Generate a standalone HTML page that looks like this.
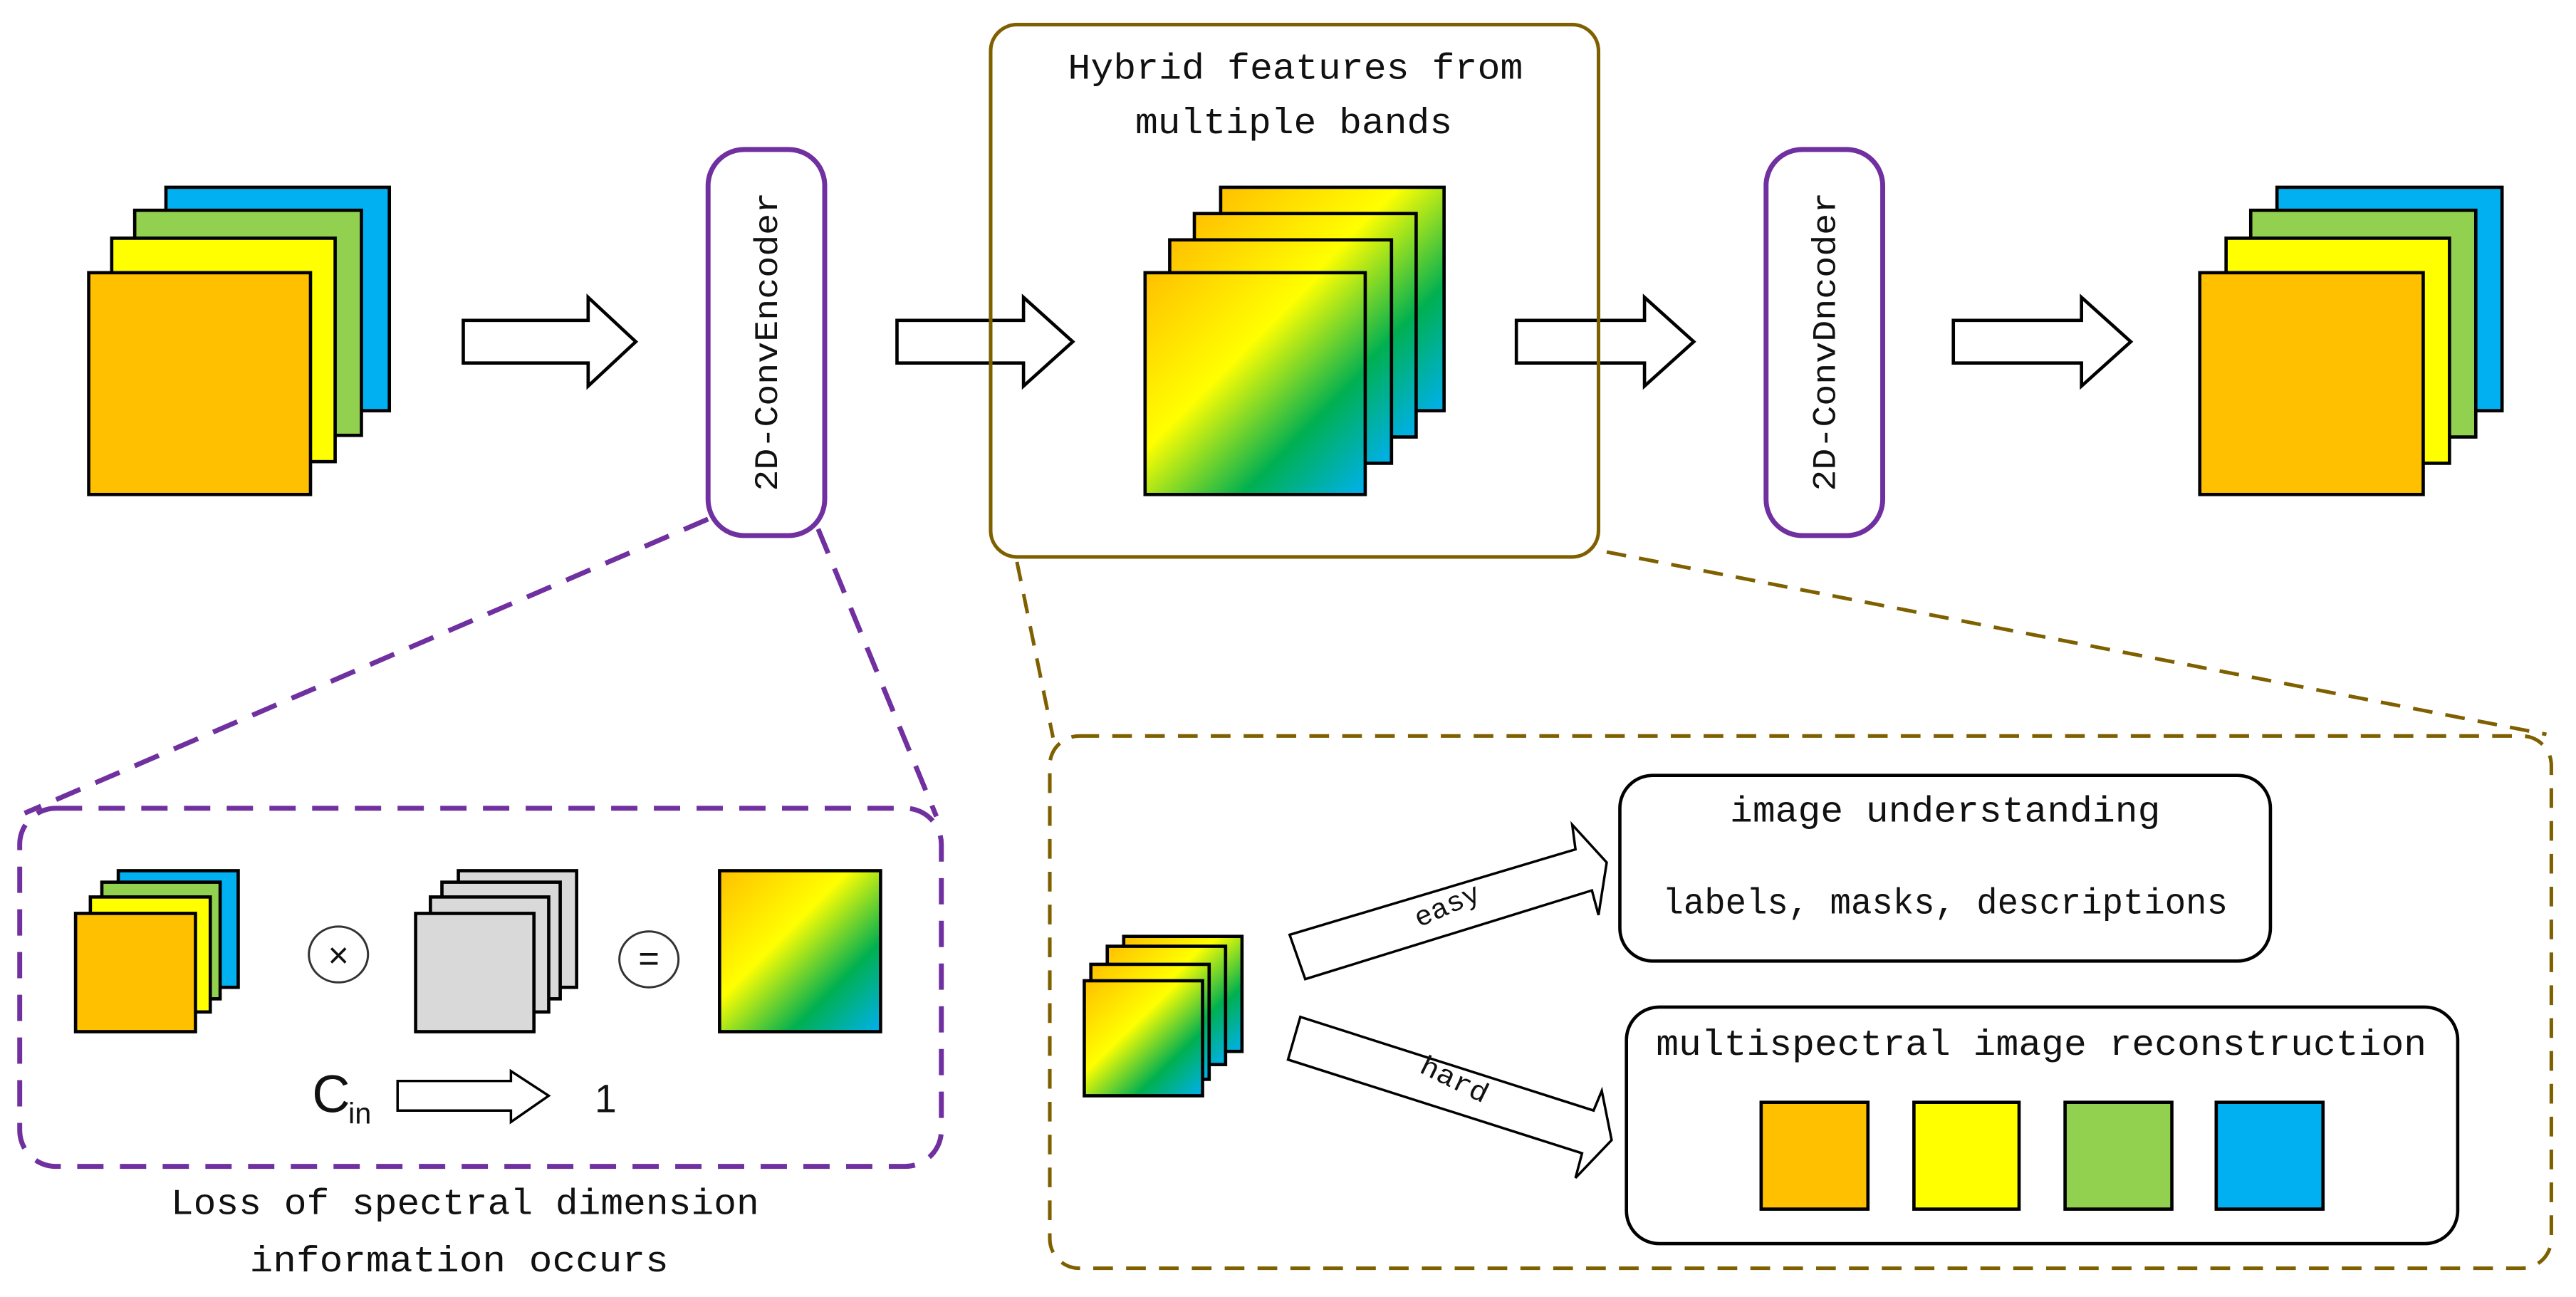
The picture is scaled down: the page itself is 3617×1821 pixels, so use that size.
<!DOCTYPE html>
<html><head><meta charset="utf-8"><style>
html,body{margin:0;padding:0;background:#fff;}
svg{display:block;}
text{font-family:"Liberation Mono","DejaVu Sans Mono",monospace;fill:#111;}
</style></head><body>
<svg width="3617" height="1821" viewBox="0 0 1568 789.5" preserveAspectRatio="none" xmlns="http://www.w3.org/2000/svg">
<defs>
<linearGradient id="g" x1="0" y1="0" x2="1" y2="1">
<stop offset="0" stop-color="#ffc000"/>
<stop offset="0.4" stop-color="#ffff00"/>
<stop offset="0.72" stop-color="#00b050"/>
<stop offset="1" stop-color="#00b0f0"/>
</linearGradient>
</defs>
<g stroke="#000" stroke-width="2">
<rect x="101" y="114" width="136" height="136" fill="#00b0f0"/>
<rect x="82" y="128" width="138" height="137" fill="#92d050"/>
<rect x="68" y="145" width="136" height="136" fill="#ffff00"/>
<rect x="54" y="166" width="135" height="135" fill="#ffc000"/>
<rect x="1386" y="114" width="137" height="136" fill="#00b0f0"/>
<rect x="1370" y="128" width="137" height="138" fill="#92d050"/>
<rect x="1355" y="145" width="136" height="137" fill="#ffff00"/>
<rect x="1339" y="166" width="136" height="135" fill="#ffc000"/>
<rect x="743" y="114" width="136" height="136" fill="url(#g)"/>
<rect x="727" y="130" width="135" height="136" fill="url(#g)"/>
<rect x="712" y="146" width="135" height="136" fill="url(#g)"/>
<rect x="697" y="166" width="134" height="135" fill="url(#g)"/>
<polygon points="282,195 358,195 358,181 387,208 358,235 358,221 282,221" fill="#fff"/>
<polygon points="546,195 623,195 623,181 653,208 623,235 623,221 546,221" fill="#fff"/>
<polygon points="923,195 1001,195 1001,181 1031,208 1001,235 1001,221 923,221" fill="#fff"/>
<polygon points="1189,195 1267,195 1267,181 1297,208 1267,235 1267,221 1189,221" fill="#fff"/>
<rect x="72" y="530" width="73" height="71" fill="#00b0f0"/>
<rect x="62" y="537" width="72" height="71" fill="#92d050"/>
<rect x="55" y="546" width="73" height="70" fill="#ffff00"/>
<rect x="46" y="556" width="73" height="72" fill="#ffc000"/>
<rect x="279" y="530" width="72" height="71" fill="#d9d9d9"/>
<rect x="269" y="537" width="72" height="71" fill="#d9d9d9"/>
<rect x="262" y="546" width="72" height="70" fill="#d9d9d9"/>
<rect x="253" y="556" width="72" height="72" fill="#d9d9d9"/>
<rect x="438" y="530" width="98" height="98" fill="url(#g)"/>
<polygon points="242,658 311,658 311,652 334,667 311,683 311,676 242,676" fill="#fff" stroke-width="1.5"/>
<rect x="684" y="570" width="72" height="70" fill="url(#g)"/>
<rect x="674" y="576" width="72" height="72" fill="url(#g)"/>
<rect x="664" y="587" width="72" height="70" fill="url(#g)"/>
<rect x="660" y="597" width="72" height="70" fill="url(#g)"/>
<polygon points="785,569 959,517 957,502 978,525 973,557 969,542 794.5,596" fill="#fff" stroke-width="1.5"/>
<polygon points="791.5,619 970,676 975,664 981,694 959,717 963,702 784,645" fill="#fff" stroke-width="1.5"/>
<rect x="986" y="472" width="396" height="113" rx="20" fill="#fff"/>
<rect x="990" y="613" width="506" height="144" rx="20" fill="#fff"/>
<rect x="1072" y="671" width="65" height="65" fill="#ffc000"/>
<rect x="1165" y="671" width="64" height="65" fill="#ffff00"/>
<rect x="1257" y="671" width="65" height="65" fill="#92d050"/>
<rect x="1349" y="671" width="65" height="65" fill="#00b0f0"/>
</g>
<g fill="none" stroke="#333" stroke-width="1.3">
<ellipse cx="206" cy="581" rx="18" ry="17"/>
<ellipse cx="395" cy="584" rx="18" ry="17"/>
</g>
<text x="206" y="589" font-size="22" text-anchor="middle">×</text>
<text x="395" y="591" font-size="22" text-anchor="middle">=</text>
<text x="190" y="677" style="font-family:'Liberation Sans',sans-serif" font-size="32">C</text>
<text x="212" y="684" style="font-family:'Liberation Sans',sans-serif" font-size="18">in</text>
<text x="362" y="677" style="font-family:'Liberation Sans',sans-serif" font-size="24">1</text>
<g fill="none" stroke="#7030a0" stroke-width="3">
<rect x="431" y="91" width="71" height="235" rx="22"/>
<rect x="1075" y="91" width="71" height="235" rx="22"/>
<g stroke-dasharray="16,10">
<line x1="431" y1="316" x2="15" y2="495"/>
<line x1="498" y1="322" x2="570" y2="497"/>
<rect x="12" y="492" width="561" height="218" rx="22"/>
</g>
</g>
<g fill="none" stroke="#7f6000" stroke-width="2.2">
<rect x="603" y="15" width="370" height="324" rx="16"/>
<g stroke-dasharray="12,8">
<line x1="619" y1="342" x2="641" y2="449"/>
<line x1="978" y1="336" x2="1550" y2="447"/>
<rect x="639" y="448" width="914" height="324" rx="18"/>
</g>
</g>
<text transform="translate(473,208) rotate(-90)" font-size="20" text-anchor="middle" textLength="182" lengthAdjust="spacingAndGlyphs">2D-ConvEncoder</text>
<text transform="translate(1117,208) rotate(-90)" font-size="20" text-anchor="middle" textLength="182" lengthAdjust="spacingAndGlyphs">2D-ConvDncoder</text>
<text x="650" y="48" font-size="22" textLength="277" lengthAdjust="spacingAndGlyphs">Hybrid features from</text>
<text x="691" y="81" font-size="22" textLength="193" lengthAdjust="spacingAndGlyphs">multiple bands</text>
<text x="104" y="739" font-size="22" textLength="358" lengthAdjust="spacingAndGlyphs">Loss of spectral dimension</text>
<text x="152" y="774" font-size="22" textLength="255" lengthAdjust="spacingAndGlyphs">information occurs</text>
<text x="1053" y="500" font-size="22" textLength="262" lengthAdjust="spacingAndGlyphs">image understanding</text>
<text x="1012" y="556" font-size="22" textLength="344" lengthAdjust="spacingAndGlyphs">labels, masks, descriptions</text>
<text x="1008" y="642" font-size="22" textLength="469" lengthAdjust="spacingAndGlyphs">multispectral image reconstruction</text>
<text transform="translate(883,556) rotate(-24)" font-size="17" text-anchor="middle" textLength="42" lengthAdjust="spacingAndGlyphs">easy</text>
<text transform="translate(883,662) rotate(26)" font-size="17" text-anchor="middle" textLength="44" lengthAdjust="spacingAndGlyphs">hard</text>
</svg>
</body></html>
